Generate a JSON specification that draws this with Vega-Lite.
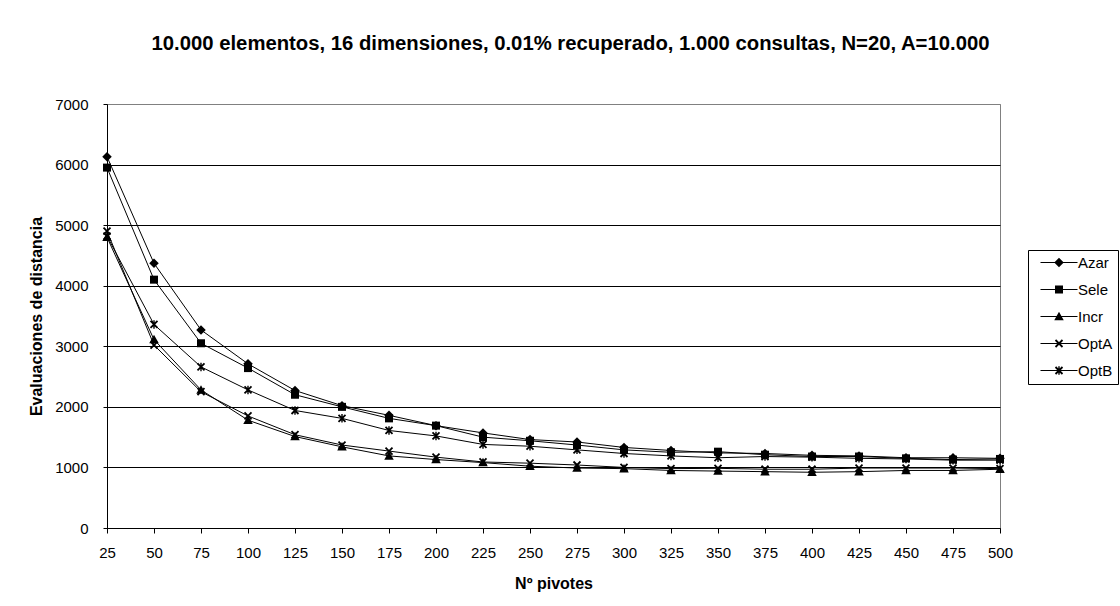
{
  "$schema": "https://vega.github.io/schema/vega-lite/v6.json",
  "width": 893,
  "height": 424,
  "autosize": {"type": "none"},
  "padding": {"left": 107, "top": 104, "right": 120, "bottom": 78},
  "background": "white",
  "config": {
    "font": "Liberation Sans",
    "view": {"stroke": "#808080", "strokeWidth": 1}
  },
  "title": {
    "text": "10.000 elementos, 16 dimensiones, 0.01% recuperado, 1.000 consultas, N=20, A=10.000",
    "font": "Liberation Sans",
    "fontSize": 20.3,
    "fontWeight": "bold",
    "color": "black",
    "anchor": "middle",
    "frame": "group",
    "dx": 17,
    "offset": 43
  },
  "data": {
    "values": [
      {"n": 25, "serie": "Azar", "v": 6130}, {"n": 50, "serie": "Azar", "v": 4370}, {"n": 75, "serie": "Azar", "v": 3270}, {"n": 100, "serie": "Azar", "v": 2710},
      {"n": 125, "serie": "Azar", "v": 2270}, {"n": 150, "serie": "Azar", "v": 2020}, {"n": 175, "serie": "Azar", "v": 1860}, {"n": 200, "serie": "Azar", "v": 1690},
      {"n": 225, "serie": "Azar", "v": 1570}, {"n": 250, "serie": "Azar", "v": 1460}, {"n": 275, "serie": "Azar", "v": 1420}, {"n": 300, "serie": "Azar", "v": 1330},
      {"n": 325, "serie": "Azar", "v": 1280}, {"n": 350, "serie": "Azar", "v": 1240}, {"n": 375, "serie": "Azar", "v": 1230}, {"n": 400, "serie": "Azar", "v": 1200},
      {"n": 425, "serie": "Azar", "v": 1190}, {"n": 450, "serie": "Azar", "v": 1160}, {"n": 475, "serie": "Azar", "v": 1160}, {"n": 500, "serie": "Azar", "v": 1150},

      {"n": 25, "serie": "Sele", "v": 5950}, {"n": 50, "serie": "Sele", "v": 4100}, {"n": 75, "serie": "Sele", "v": 3050}, {"n": 100, "serie": "Sele", "v": 2640},
      {"n": 125, "serie": "Sele", "v": 2200}, {"n": 150, "serie": "Sele", "v": 2000}, {"n": 175, "serie": "Sele", "v": 1810}, {"n": 200, "serie": "Sele", "v": 1690},
      {"n": 225, "serie": "Sele", "v": 1500}, {"n": 250, "serie": "Sele", "v": 1440}, {"n": 275, "serie": "Sele", "v": 1370}, {"n": 300, "serie": "Sele", "v": 1290},
      {"n": 325, "serie": "Sele", "v": 1250}, {"n": 350, "serie": "Sele", "v": 1260}, {"n": 375, "serie": "Sele", "v": 1210}, {"n": 400, "serie": "Sele", "v": 1180},
      {"n": 425, "serie": "Sele", "v": 1180}, {"n": 450, "serie": "Sele", "v": 1150}, {"n": 475, "serie": "Sele", "v": 1130}, {"n": 500, "serie": "Sele", "v": 1140},

      {"n": 25, "serie": "Incr", "v": 4800}, {"n": 50, "serie": "Incr", "v": 3110}, {"n": 75, "serie": "Incr", "v": 2280}, {"n": 100, "serie": "Incr", "v": 1780},
      {"n": 125, "serie": "Incr", "v": 1510}, {"n": 150, "serie": "Incr", "v": 1340}, {"n": 175, "serie": "Incr", "v": 1190}, {"n": 200, "serie": "Incr", "v": 1130},
      {"n": 225, "serie": "Incr", "v": 1080}, {"n": 250, "serie": "Incr", "v": 1020}, {"n": 275, "serie": "Incr", "v": 990}, {"n": 300, "serie": "Incr", "v": 980},
      {"n": 325, "serie": "Incr", "v": 950}, {"n": 350, "serie": "Incr", "v": 940}, {"n": 375, "serie": "Incr", "v": 930}, {"n": 400, "serie": "Incr", "v": 920},
      {"n": 425, "serie": "Incr", "v": 930}, {"n": 450, "serie": "Incr", "v": 950}, {"n": 475, "serie": "Incr", "v": 950}, {"n": 500, "serie": "Incr", "v": 970},

      {"n": 25, "serie": "OptA", "v": 4900}, {"n": 50, "serie": "OptA", "v": 3020}, {"n": 75, "serie": "OptA", "v": 2250}, {"n": 100, "serie": "OptA", "v": 1850},
      {"n": 125, "serie": "OptA", "v": 1540}, {"n": 150, "serie": "OptA", "v": 1370}, {"n": 175, "serie": "OptA", "v": 1270}, {"n": 200, "serie": "OptA", "v": 1170},
      {"n": 225, "serie": "OptA", "v": 1090}, {"n": 250, "serie": "OptA", "v": 1070}, {"n": 275, "serie": "OptA", "v": 1040}, {"n": 300, "serie": "OptA", "v": 1000},
      {"n": 325, "serie": "OptA", "v": 980}, {"n": 350, "serie": "OptA", "v": 985}, {"n": 375, "serie": "OptA", "v": 970}, {"n": 400, "serie": "OptA", "v": 970},
      {"n": 425, "serie": "OptA", "v": 990}, {"n": 450, "serie": "OptA", "v": 990}, {"n": 475, "serie": "OptA", "v": 990}, {"n": 500, "serie": "OptA", "v": 980},

      {"n": 25, "serie": "OptB", "v": 4820}, {"n": 50, "serie": "OptB", "v": 3360}, {"n": 75, "serie": "OptB", "v": 2660}, {"n": 100, "serie": "OptB", "v": 2280},
      {"n": 125, "serie": "OptB", "v": 1940}, {"n": 150, "serie": "OptB", "v": 1810}, {"n": 175, "serie": "OptB", "v": 1610}, {"n": 200, "serie": "OptB", "v": 1520},
      {"n": 225, "serie": "OptB", "v": 1380}, {"n": 250, "serie": "OptB", "v": 1350}, {"n": 275, "serie": "OptB", "v": 1290}, {"n": 300, "serie": "OptB", "v": 1230},
      {"n": 325, "serie": "OptB", "v": 1190}, {"n": 350, "serie": "OptB", "v": 1160}, {"n": 375, "serie": "OptB", "v": 1180}, {"n": 400, "serie": "OptB", "v": 1170},
      {"n": 425, "serie": "OptB", "v": 1150}, {"n": 450, "serie": "OptB", "v": 1140}, {"n": 475, "serie": "OptB", "v": 1120}, {"n": 500, "serie": "OptB", "v": 1120}
    ]
  },
  "encoding": {
    "x": {
      "field": "n",
      "type": "quantitative",
      "scale": {"domain": [25, 500], "nice": false, "zero": false},
      "axis": {
        "values": [25, 50, 75, 100, 125, 150, 175, 200, 225, 250, 275, 300, 325, 350, 375, 400, 425, 450, 475, 500],
        "title": "Nº pivotes",
        "grid": false,
        "domainColor": "black",
        "tickColor": "black",
        "tickSize": 5,
        "labelFontSize": 15,
        "labelColor": "black",
        "labelPadding": 12,
        "labelFlush": false,
        "labelOverlap": false,
        "titleFontSize": 16,
        "titleFontWeight": "bold",
        "titleColor": "black",
        "titlePadding": 15
      }
    },
    "y": {
      "field": "v",
      "type": "quantitative",
      "scale": {"domain": [0, 7000], "nice": false},
      "axis": {
        "values": [0, 1000, 2000, 3000, 4000, 5000, 6000, 7000],
        "format": "d",
        "title": "Evaluaciones de distancia",
        "grid": true,
        "gridColor": {"condition": {"test": "datum.value === 7000", "value": "#808080"}, "value": "black"},
        "gridOpacity": 1,
        "gridWidth": 1,
        "domainColor": "black",
        "tickColor": "black",
        "tickSize": 4,
        "labelFontSize": 15,
        "labelColor": "black",
        "labelPadding": 15,
        "titleFontSize": 16,
        "titleFontWeight": "bold",
        "titleColor": "black",
        "titlePadding": 10
      }
    }
  },
  "layer": [
    {
      "mark": {"type": "line", "color": "black", "strokeWidth": 1},
      "encoding": {"detail": {"field": "serie", "type": "nominal"}}
    },
    {
      "mark": {"type": "point", "filled": true, "fill": "black", "strokeWidth": 0, "size": 100, "opacity": 1},
      "encoding": {
        "shape": {
          "field": "serie",
          "type": "nominal",
          "scale": {
            "domain": ["Azar", "Sele", "Incr", "OptA", "OptB"],
            "range": [
              "M0,-0.95L0.95,0L0,0.95L-0.95,0Z",
              "M-0.8,-0.8L0.8,-0.8L0.8,0.8L-0.8,0.8Z",
              "M0,-0.95L0.95,0.75L-0.95,0.75Z",
              "M-0.573,-0.827L0.827,0.573L0.573,0.827L-0.827,-0.573ZM0.827,-0.573L-0.573,0.827L-0.827,0.573L0.573,-0.827Z",
              "M-0.573,-0.827L0.827,0.573L0.573,0.827L-0.827,-0.573ZM0.827,-0.573L-0.573,0.827L-0.827,0.573L0.573,-0.827ZM-0.14,-0.85L0.14,-0.85L0.14,0.85L-0.14,0.85Z"
            ]
          },
          "legend": null
        }
      }
    },
    {
      "mark": {"type": "point", "filled": true, "fill": "black", "strokeWidth": 0, "size": 100, "opacity": 0},
      "encoding": {
        "shape": {
          "field": "serie",
          "type": "nominal",
          "scale": {
            "domain": ["Azar", "Sele", "Incr", "OptA", "OptB"],
            "range": [
              "M-3.7,-0.1L3.7,-0.1L3.7,0.1L-3.7,0.1ZM0,-0.95L0.95,0L0,0.95L-0.95,0Z",
              "M-3.7,-0.1L3.7,-0.1L3.7,0.1L-3.7,0.1ZM-0.8,-0.8L0.8,-0.8L0.8,0.8L-0.8,0.8Z",
              "M-3.7,-0.1L3.7,-0.1L3.7,0.1L-3.7,0.1ZM0,-0.95L0.95,0.75L-0.95,0.75Z",
              "M-3.7,-0.1L3.7,-0.1L3.7,0.1L-3.7,0.1ZM-0.573,-0.827L0.827,0.573L0.573,0.827L-0.827,-0.573ZM0.827,-0.573L-0.573,0.827L-0.827,0.573L0.573,-0.827Z",
              "M-3.7,-0.1L3.7,-0.1L3.7,0.1L-3.7,0.1ZM-0.573,-0.827L0.827,0.573L0.573,0.827L-0.827,-0.573ZM0.827,-0.573L-0.573,0.827L-0.827,0.573L0.573,-0.827ZM-0.14,-0.85L0.14,-0.85L0.14,0.85L-0.14,0.85Z"
            ]
          },
          "legend": {
            "title": null,
            "orient": "none",
            "legendX": 921,
            "legendY": 146,
            "padding": 5,
            "strokeColor": "black",
            "fillColor": "white",
            "cornerRadius": 0,
            "symbolOffset": 18.5,
            "labelOffset": 11.5,
            "rowPadding": 11,
            "symbolSize": 100,
            "symbolOpacity": 1,
            "symbolFillColor": "black",
            "symbolStrokeColor": "black",
            "symbolStrokeWidth": 0,
            "labelFontSize": 15,
            "labelColor": "black",
            "labelFont": "Liberation Sans"
          }
        }
      }
    }
  ],
  "resolve": {"scale": {"shape": "independent"}}
}
